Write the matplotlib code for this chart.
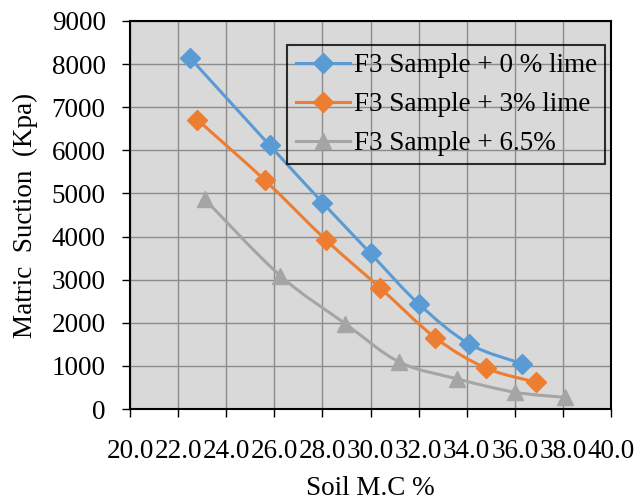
import matplotlib
matplotlib.use("Agg")
import matplotlib.pyplot as plt
from matplotlib.path import Path
from matplotlib.patches import PathPatch
from matplotlib.lines import Line2D

# =============================================================================
# Data
# =============================================================================
mc_0 = [22.5, 25.8, 28.0, 30.0, 32.0, 34.1, 36.3]
suction_0 = [8140, 6120, 4790, 3610, 2440, 1510, 1050]

mc_3 = [22.8, 25.6, 28.15, 30.4, 32.7, 34.8, 36.9]
suction_3 = [6710, 5310, 3920, 2810, 1650, 950, 620]

mc_65 = [23.1, 26.25, 28.95, 31.2, 33.6, 36.0, 38.1]
suction_65 = [4870, 3090, 1980, 1090, 700, 390, 270]

labels = ["F3 Sample + 0 % lime", "F3 Sample + 3% lime", "F3 Sample + 6.5%"]
colors = ['#5B9BD5', '#ED7D31', '#A5A5A5']
markers = ['D', 'D', '^']
x_ticks = [20.0, 22.0, 24.0, 26.0, 28.0, 30.0, 32.0, 34.0, 36.0, 38.0, 40.0]
y_ticks = [0, 1000, 2000, 3000, 4000, 5000, 6000, 7000, 8000, 9000]

plt.rcParams['font.family'] = ['Liberation Serif', 'DejaVu Serif']
FS = 19.5


def smooth_path(xs, ys):
    '''
    Excel-like smoothed line: bezier segments through the data points
    '''
    pts = list(zip(xs, ys))
    n = len(pts)
    verts = [pts[0]]
    codes = [Path.MOVETO]
    for i in range(n - 1):
        p0 = pts[max(i - 1, 0)]
        p1 = pts[i]
        p2 = pts[i + 1]
        p3 = pts[min(i + 2, n - 1)]
        c1 = (p1[0] + (p2[0] - p0[0]) / 6, p1[1] + (p2[1] - p0[1]) / 6)
        c2 = (p2[0] - (p3[0] - p1[0]) / 6, p2[1] - (p3[1] - p1[1]) / 6)
        verts += [c1, c2, p2]
        codes += [Path.CURVE4] * 3
    return Path(verts, codes)


fig = plt.figure(figsize=(6.38, 5.01), dpi=100)
ax = fig.add_axes([0.2038, 0.1836, 0.7539, 0.7745])
ax.set_facecolor('#D9D9D9')

series = [(mc_0, suction_0), (mc_3, suction_3), (mc_65, suction_65)]
handles = []
for (xs, ys), c, m, lab in zip(series, colors, markers, labels):
    ax.add_patch(PathPatch(smooth_path(xs, ys), facecolor='none',
                           edgecolor=c, lw=2.2, zorder=2))
    ms = 10 if m == 'D' else 11
    ax.plot(xs, ys, ls='none', marker=m, ms=ms, color=c, zorder=3)
    handles.append(Line2D([], [], color=c, lw=2.2, marker=m, ms=ms))

ax.set_xlim(20, 40)
ax.set_ylim(0, 9000)
ax.set_xticks(x_ticks)
ax.set_xticklabels(['%.1f' % v for v in x_ticks])
ax.set_yticks(y_ticks)
ax.grid(True, color='#8C8C8C', lw=1.0)
ax.set_axisbelow(True)

for s in ax.spines.values():
    s.set_color('black')
    s.set_linewidth(1.5)

ax.tick_params(axis='x', direction='out', length=5.5, width=1, pad=16,
               labelsize=FS)
ax.tick_params(axis='y', direction='out', length=5.5, width=1, pad=12,
               labelsize=FS)

ax.set_xlabel('Soil M.C %', fontsize=FS, labelpad=9)
ax.set_ylabel('Matric  Suction  (Kpa)', fontsize=FS, labelpad=10)

leg = ax.legend(handles, labels, loc='upper right',
                bbox_to_anchor=(0.9875, 0.938),
                fontsize=FS, fancybox=False, handlelength=2.0,
                handletextpad=0.15, borderpad=0.3, labelspacing=0.52,
                borderaxespad=0)
leg.get_frame().set_facecolor('none')
leg.get_frame().set_edgecolor('black')
leg.get_frame().set_linewidth(1.5)

fig.savefig("out.png", dpi=100)
